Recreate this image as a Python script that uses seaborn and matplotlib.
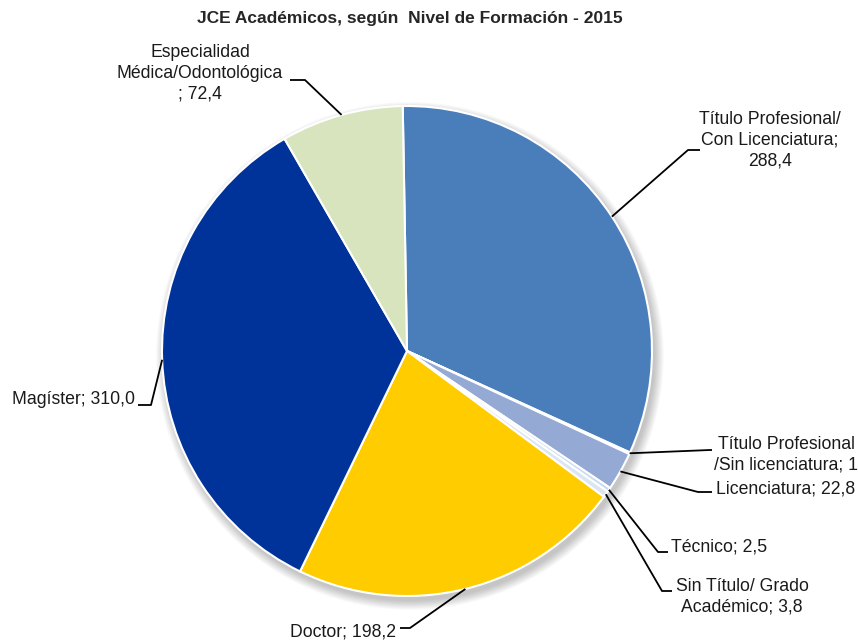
import numpy as np
import matplotlib
matplotlib.use("Agg")
import matplotlib.pyplot as plt
import seaborn as sns
from matplotlib.patches import Circle

sns.set_style("white")
plt.rcParams['font.family'] = ['Liberation Sans', 'DejaVu Sans']

categories = ['Título Profesional/\nCon Licenciatura;\n288,4',
              'Título Profesional\n/Sin licenciatura; 1',
              'Licenciatura; 22,8',
              'Técnico; 2,5',
              'Sin Título/ Grado\nAcadémico; 3,8',
              'Doctor; 198,2',
              'Magíster; 310,0',
              'Especialidad\nMédica/Odontológica\n; 72,4']
values = [288.4, 1, 22.8, 2.5, 3.8, 198.2, 310.0, 72.4]
colors = ['#4A7EBB', '#B9CDE5', '#95A9D5', '#C6D9F1', '#DCE6F2', '#FFCC00', '#003399', '#D7E4BD']

# pie centre / radius in pixels, used to place labels
CX, CY, R = 407, 351, 245


def px(x, y):
    return (x - CX) / R, (CY - y) / R


# label layout: elbow, end of leader, text anchor (pixels), ha
layout = [
    ((688, 150), (700, 150), (770, 140), 'center'),
    ((710, 450), (712, 450), (786, 455), 'center'),
    ((698, 492), (712, 492), (716, 489), 'left'),
    ((658, 552), (668, 552), (671, 547), 'left'),
    ((662, 591), (672, 591), (742, 597), 'center'),
    ((410, 628), (400, 628), (396, 632), 'right'),
    ((151, 405), (138, 405), (135, 400), 'right'),
    ((305, 80), (290, 80), (200, 73), 'center'),
]

fig = plt.figure(figsize=(8.58, 6.44), dpi=100)
ax = fig.add_axes([0, 0, 1, 1])

# soft shadow under the pie
for k in range(10):
    ax.add_patch(Circle((0.012, -0.02), 1.0 + k * 0.004, color='black', alpha=0.025, lw=0, zorder=0))

wedges, _ = ax.pie(values, colors=colors, startangle=91, counterclock=False, radius=1,
                   wedgeprops=dict(edgecolor='white', linewidth=1.5))
for w in wedges:
    w.set_zorder(2)

for w, lab, (elbow, end, txt, ha) in zip(wedges, categories, layout):
    mid = np.deg2rad((w.theta1 + w.theta2) / 2)
    sx, sy = np.cos(mid), np.sin(mid)
    ex, ey = px(*elbow)
    nx, ny = px(*end)
    ax.plot([sx, ex, nx], [sy, ey, ny], color='black', lw=1.3, zorder=3, solid_capstyle='butt')
    tx, ty = px(*txt)
    ax.text(tx, ty, lab, ha=ha, va='center', fontsize=12.7, linespacing=1.3, color='#1a1a1a')

ax.set_xlim(px(0, 0)[0], px(858, 0)[0])
ax.set_ylim(px(0, 644)[1], px(0, 0)[1])
ax.set_aspect('auto')
ax.axis('off')

fig.text(0.478, 0.972, 'JCE Académicos, según  Nivel de Formación - 2015',
         ha='center', va='center', fontsize=12.5, fontweight='bold')

fig.savefig('out.png', dpi=100, facecolor='white')
